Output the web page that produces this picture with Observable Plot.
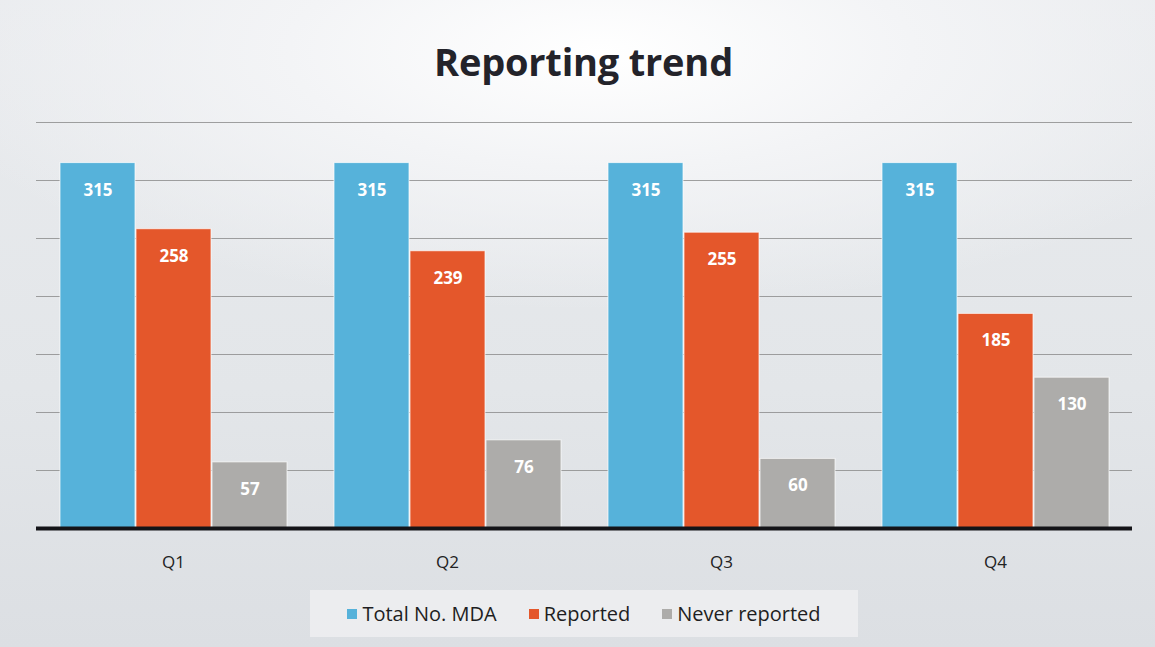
<!DOCTYPE html>
<html>
<head>
<meta charset="utf-8">
<script src="https://cdn.jsdelivr.net/npm/d3@7"></script>
<script src="https://cdn.jsdelivr.net/npm/@observablehq/plot@0.6"></script>
<style>
  html, body { margin: 0; padding: 0; }
  body {
    width: 1155px; height: 647px; overflow: hidden;
    font-family: "Open Sans", "Noto Sans", sans-serif;
    background: radial-gradient(ellipse 60% 40% at 52% 8%, #ffffff 0%, #f3f4f6 45%, rgba(243,244,246,0) 100%),
                linear-gradient(180deg, #e9ebee 0%, #e3e6e9 60%, #dcdfe3 100%);
  }
  #title {
    height: 100px; box-sizing: border-box; padding-top: 36px;
    text-align: center; font-size: 38px; font-weight: 700; color: #23232a;
    line-height: 50px; letter-spacing: -0.2px; margin-left: 12px;
  }
  #chart svg { display: block; background: transparent; }
  #chart svg g[aria-label="fx-axis tick label"] { font-size: 17px; fill: #222; }
  #legend-wrap { height: 72px; position: relative; }
  #legend {
    position: absolute; left: 310px; top: 15px; width: 548px; height: 47px;
    background: rgba(238,239,241,0.85);
    display: flex; align-items: center; justify-content: center; gap: 32px;
    font-size: 20px; color: #1e1e22;
  }
  .item { display: flex; align-items: center; gap: 5px; }
  .sw { width: 10px; height: 10px; display: inline-block; }
</style>
</head>
<body>
<div id="title">Reporting trend</div>
<div id="chart"></div>
<div id="legend-wrap"><div id="legend"></div></div>
<script>
const quarters = ["Q1", "Q2", "Q3", "Q4"];
const seriesNames = ["Total No. MDA", "Reported", "Never reported"];
const totalMDA = [315, 315, 315, 315];
const reported = [258, 239, 255, 185];
const neverReported = [57, 76, 60, 130];
const seriesColors = ["#56b2da", "#e4572b", "#adacaa"];
const gridValues = [50, 100, 150, 200, 250, 300, 350];

const seriesValues = [totalMDA, reported, neverReported];
const data = [];
quarters.forEach((q, i) => {
  seriesNames.forEach((s, j) => {
    data.push({quarter: q, series: s, value: seriesValues[j][i]});
  });
});

const chart = Plot.plot({
  width: 1155,
  height: 475,
  marginLeft: 35,
  marginRight: 23,
  marginTop: 22,
  marginBottom: 47,
  style: {background: "transparent", fontFamily: "Open Sans, Noto Sans, sans-serif"},
  fx: {domain: quarters, padding: 0, label: null, tickSize: 0, tickPadding: 27},
  x: {domain: seriesNames, axis: null, paddingInner: 0.015, paddingOuter: 0.3},
  y: {domain: [0, 350], axis: null},
  color: {domain: seriesNames, range: seriesColors},
  marks: [
    Plot.ruleY(gridValues, {stroke: "#8a8a8a", strokeWidth: 1, strokeOpacity: 0.8}),
    Plot.barY(data, {fx: "quarter", x: "series", y: "value", fill: "series", stroke: "#ffffff", strokeWidth: 1, strokeOpacity: 0.7}),
    Plot.text(data, {fx: "quarter", x: "series", y: "value", text: d => String(d.value), dy: 27, fill: "white", fontWeight: 700, fontSize: 17}),
    Plot.ruleY([0], {stroke: "#141418", strokeWidth: 4})
  ]
});
document.getElementById("chart").appendChild(chart);

const legend = document.getElementById("legend");
seriesNames.forEach((s, i) => {
  const item = document.createElement("div");
  item.className = "item";
  const sw = document.createElement("span");
  sw.className = "sw";
  sw.style.background = seriesColors[i];
  const lab = document.createElement("span");
  lab.textContent = s;
  item.appendChild(sw);
  item.appendChild(lab);
  legend.appendChild(item);
});
</script>
</body>
</html>
